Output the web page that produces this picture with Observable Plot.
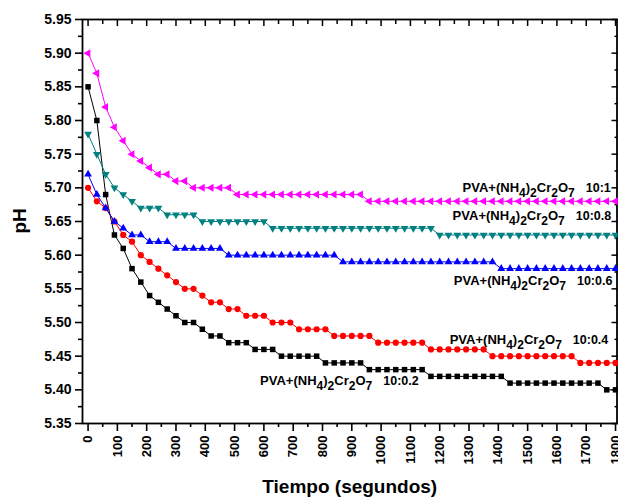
<!DOCTYPE html>
<html>
<head>
<meta charset="utf-8">
<script src="https://cdn.jsdelivr.net/npm/d3@7"></script>
<script src="https://cdn.jsdelivr.net/npm/@observablehq/plot@0.6"></script>
<style>
  html, body { margin: 0; padding: 0; background: #fff; }
</style>
</head>
<body>
<div id="chart"></div>
<script>
// ---- data ----
const times = [0,30,60,90,120,150,180,210,240,270,300,330,360,390,420,450,480,510,540,570,600,
  630,660,690,720,750,780,810,840,870,900,930,960,990,1020,1050,1080,1110,1140,1170,1200,
  1230,1260,1290,1320,1350,1380,1410,1440,1470,1500,1530,1560,1590,1620,1650,1680,1710,1740,1770,1800];

const ph_10_02 = [5.85,5.80,5.69,5.63,5.61,5.58,5.56,5.54,5.53,5.52,5.51,5.50,5.50,5.49,5.48,5.48,
  5.47,5.47,5.47,5.46,5.46,5.46,5.45,5.45,5.45,5.45,5.45,5.44,5.44,5.44,5.44,5.44,
  5.43,5.43,5.43,5.43,5.43,5.43,5.43,5.42,5.42,5.42,5.42,5.42,5.42,5.42,5.42,5.42,
  5.41,5.41,5.41,5.41,5.41,5.41,5.41,5.41,5.41,5.41,5.41,5.40,5.40];

const ph_10_04 = [5.70,5.68,5.67,5.65,5.63,5.62,5.60,5.59,5.58,5.57,5.56,5.55,5.55,5.54,5.53,5.53,
  5.52,5.52,5.51,5.51,5.51,5.50,5.50,5.50,5.49,5.49,5.49,5.49,5.48,5.48,5.48,5.48,5.48,
  5.47,5.47,5.47,5.47,5.47,5.47,5.46,5.46,5.46,5.46,5.46,5.46,5.46,
  5.45,5.45,5.45,5.45,5.45,5.45,5.45,5.45,5.45,5.45,5.44,5.44,5.44,5.44,5.44];

const ph_10_06 = [5.72,5.69,5.67,5.65,5.64,5.63,5.63,5.62,5.62,5.62,5.61,5.61,5.61,5.61,5.61,5.61,
  5.60,5.60,5.60,5.60,5.60,5.60,5.60,5.60,5.60,5.60,5.60,5.60,5.60,
  5.59,5.59,5.59,5.59,5.59,5.59,5.59,5.59,5.59,5.59,5.59,5.59,5.59,5.59,5.59,5.59,5.59,5.59,
  5.58,5.58,5.58,5.58,5.58,5.58,5.58,5.58,5.58,5.58,5.58,5.58,5.58,5.58];

const ph_10_08 = [5.78,5.75,5.72,5.70,5.69,5.68,5.67,5.67,5.67,5.66,5.66,5.66,5.66,
  5.65,5.65,5.65,5.65,5.65,5.65,5.65,5.65,
  5.64,5.64,5.64,5.64,5.64,5.64,5.64,5.64,5.64,5.64,5.64,5.64,5.64,5.64,5.64,5.64,5.64,5.64,5.64,
  5.63,5.63,5.63,5.63,5.63,5.63,5.63,5.63,5.63,5.63,5.63,5.63,5.63,5.63,5.63,5.63,5.63,5.63,5.63,5.63,5.63];

const ph_10_1 = [5.90,5.87,5.82,5.79,5.77,5.75,5.74,5.73,5.72,5.72,5.71,5.71,
  5.70,5.70,5.70,5.70,5.70,
  5.69,5.69,5.69,5.69,5.69,5.69,5.69,5.69,5.69,5.69,5.69,5.69,5.69,5.69,5.69,
  5.68,5.68,5.68,5.68,5.68,5.68,5.68,5.68,5.68,5.68,5.68,5.68,5.68,5.68,5.68,5.68,5.68,5.68,5.68,5.68,
  5.68,5.68,5.68,5.68,5.68,5.68,5.68,5.68,5.68];

const seriesNames = ["10:0.2", "10:0.4", "10:0.6", "10:0.8", "10:1"];
const seriesValues = [ph_10_02, ph_10_04, ph_10_06, ph_10_08, ph_10_1];

const yTickLabels = [5.35,5.40,5.45,5.50,5.55,5.60,5.65,5.70,5.75,5.80,5.85,5.90,5.95];
const xTickLabels = [0,100,200,300,400,500,600,700,800,900,1000,1100,1200,1300,1400,1500,1600,1700,1800];

const labelTexts = ["PVA+(NH4)2Cr2O7 10:0.2","PVA+(NH4)2Cr2O7 10:0.4","PVA+(NH4)2Cr2O7 10:0.6","PVA+(NH4)2Cr2O7 10:0.8","PVA+(NH4)2Cr2O7 10:1"];

// ---- styling / annotation placement ----
const colors = ["#000000", "#ff0000", "#0000ff", "#008080", "#ff00ff"];
const symbols = ["square", "circle", "triangle", "triangle", "triangle"];
const rotations = [0, 0, 0, 180, -90];
const radii = [3.1, 3.1, 2.9, 2.9, 3.0];
const labelAnchors = [[587, 5.414], [1234, 5.474], [1248, 5.562], [1244, 5.658], [1278, 5.6995]];

const yMinor = yTickLabels.slice(0, -1).map(v => v + 0.025);
const xMinor = xTickLabels.map(v => v + 50).filter(v => v <= 1800);

const rows = seriesValues.map(vals => times.map((t, i) => ({t, ph: vals[i]})));

const marks = [];
rows.forEach((data, k) => {
  marks.push(Plot.line(data, {x: "t", y: "ph", stroke: colors[k], strokeWidth: 1}));
  marks.push(Plot.dot(data, {x: "t", y: "ph", fill: colors[k], stroke: "none",
    symbol: symbols[k], r: radii[k], rotate: rotations[k]}));
});

const font = "'Liberation Sans', Arial, Helvetica, sans-serif";

const plot = Plot.plot({
  width: 618,
  height: 498,
  marginLeft: 82,
  marginRight: 1.5,
  marginTop: 19,
  marginBottom: 75,
  x: {domain: [-19, 1805]},
  y: {domain: [5.35, 5.95]},
  style: {fontFamily: font, background: "white", color: "black"},
  marks: [
    // left axis
    Plot.axisY(yTickLabels, {anchor: "left", tickSize: 7, tickPadding: 4, strokeWidth: 1.6,
      tickFormat: d3.format(".2f"), fontSize: 14, fontWeight: "bold", label: null}),
    Plot.axisY(yMinor, {anchor: "left", tickSize: 4, strokeWidth: 1.6, text: null, label: null}),
    // right axis (inward ticks)
    Plot.axisY(yTickLabels, {anchor: "right", tickSize: 6, dx: -6, strokeWidth: 1.5, text: null, label: null}),
    Plot.axisY(yMinor, {anchor: "right", tickSize: 3, dx: -3, strokeWidth: 1.5, text: null, label: null}),
    // bottom axis
    Plot.axisX(xTickLabels, {anchor: "bottom", tickSize: 8, tickPadding: 4, strokeWidth: 1.6,
      tickRotate: -90, tickFormat: d3.format("d"), fontSize: 13, fontWeight: "bold", label: null}),
    Plot.axisX(xMinor, {anchor: "bottom", tickSize: 4, strokeWidth: 1.6, text: null, label: null}),
    // top axis (inward ticks)
    Plot.axisX(xTickLabels, {anchor: "top", tickSize: 6, dy: 6, strokeWidth: 1.5, text: null, label: null}),
    Plot.axisX(xMinor, {anchor: "top", tickSize: 4, dy: 4, strokeWidth: 1.5, text: null, label: null}),
    Plot.frame({stroke: "black", strokeWidth: 1.8}),
    ...marks,
    // series labels
    Plot.text(labelTexts, {x: (d, i) => labelAnchors[i][0], y: (d, i) => labelAnchors[i][1],
      text: d => d, textAnchor: "start", lineAnchor: "middle", fontSize: 13, fontWeight: "bold", fill: "black"}),
    // axis titles
    Plot.text(["Tiempo (segundos)"], {frameAnchor: "bottom", dy: 63, text: d => d,
      fontSize: 19, fontWeight: "bold", lineAnchor: "middle", fill: "black"}),
    Plot.text(["pH"], {frameAnchor: "left", dx: -63, dy: 12, rotate: -90, text: d => d,
      fontSize: 19, fontWeight: "bold", lineAnchor: "middle", fill: "black"})
  ]
});

document.getElementById("chart").appendChild(plot);

// render chemical-formula subscripts as tspans (text stays real text)
d3.select(plot).selectAll("text").each(function () {
  const s = this.textContent;
  if (!s.startsWith("PVA")) return;
  const sp = s.indexOf(" ");
  const formula = s.slice(0, sp);
  const ratio = s.slice(sp + 1);
  const el = d3.select(this);
  el.text(null);
  let shifted = false;
  for (let i = 0; i < formula.length; i++) {
    const ch = formula[i];
    const isSub = /\d/.test(ch) && i > 0 && /[A-Za-z)]/.test(formula[i - 1]);
    const ts = el.append("tspan").text(ch);
    if (isSub) {
      ts.attr("font-size", 12);
      if (!shifted) { ts.attr("dy", 5); shifted = true; }
    } else if (shifted) {
      ts.attr("dy", -5); shifted = false;
    }
  }
  const r = el.append("tspan").attr("dx", 11).attr("font-size", 12.5).text(ratio);
  if (shifted) r.attr("dy", -5);
});
</script>
</body>
</html>
